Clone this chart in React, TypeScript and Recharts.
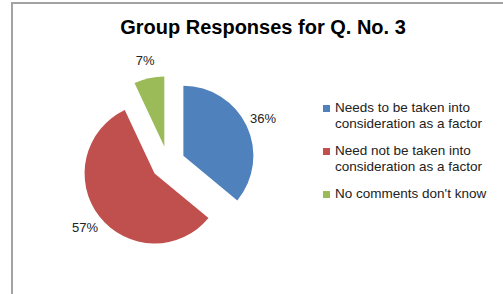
import { PieChart, Pie, Cell, Legend, Sector } from 'recharts'

const categories = [
  'Needs to be taken into consideration as a factor',
  'Need not be taken into consideration as a factor',
  "No comments don't know",
]
const shares = [36, 57, 7]
const colors = ['#4F81BD', '#C0504D', '#9BBB59']

const data = categories.map((name, i) => ({ name, value: shares[i] }))

const RAD = Math.PI / 180
const EXPLODE = 17
const FONT = 'Liberation Sans, Arial, sans-serif'

function ExplodedSlice(props: any) {
  const { cx, cy, midAngle, innerRadius, outerRadius, startAngle, endAngle, fill } = props
  const dx = EXPLODE * Math.cos(-midAngle * RAD)
  const dy = EXPLODE * Math.sin(-midAngle * RAD)
  return (
    <Sector
      cx={cx + dx}
      cy={cy + dy}
      innerRadius={innerRadius}
      outerRadius={outerRadius}
      startAngle={startAngle}
      endAngle={endAngle}
      fill={fill}
      stroke="none"
    />
  )
}

function SliceLabel(props: any) {
  const { cx, cy, midAngle, outerRadius, value } = props
  const r = EXPLODE + outerRadius + 18
  const x = cx + r * Math.cos(-midAngle * RAD)
  const y = cy + r * Math.sin(-midAngle * RAD)
  return (
    <text x={x} y={y} textAnchor="middle" dominantBaseline="central" fontSize={13} fontFamily={FONT} fill="#222">
      {`${value}%`}
    </text>
  )
}

function LegendBox() {
  return (
    <div style={{ fontFamily: FONT, fontSize: 13.5, lineHeight: '16px', color: '#222' }}>
      {data.map((d, i) => (
        <div key={d.name} style={{ display: 'flex', alignItems: 'flex-start', marginBottom: 11 }}>
          <div style={{ width: 7, height: 7, background: colors[i], marginTop: 5, marginRight: 5 }} />
          <div style={{ width: 160 }}>{d.name}</div>
        </div>
      ))}
    </div>
  )
}

export default function App() {
  return (
    <div style={{ position: 'absolute', left: 0, top: 0, width: 503, height: 294, background: '#fff', overflow: 'hidden' }}>
      <div
        style={{
          position: 'absolute',
          left: 11,
          top: 2,
          width: 520,
          height: 320,
          border: '2px solid #a3a3a3',
        }}
      />
      <div
        style={{
          position: 'absolute',
          left: 63,
          width: 400,
          top: 16,
          textAlign: 'center',
          fontFamily: FONT,
          fontWeight: 'bold',
          fontSize: 20,
          color: '#000',
        }}
      >
        Group Responses for Q. No. 3
      </div>
      <PieChart width={503} height={294} margin={{ top: 0, right: 0, bottom: 0, left: 0 }} style={{ position: 'absolute', left: 0, top: 0 }}>
        <Pie
          data={data}
          dataKey="value"
          nameKey="name"
          cx={168}
          cy={163}
          outerRadius={70}
          startAngle={90}
          endAngle={-270}
          stroke="none"
          labelLine={false}
          label={SliceLabel}
          shape={ExplodedSlice}
          activeShape={ExplodedSlice}
          inactiveShape={ExplodedSlice}
          isAnimationActive={false}
        >
          {data.map((d, i) => (
            <Cell key={d.name} fill={colors[i]} />
          ))}
        </Pie>
        <Legend
          content={LegendBox}
          wrapperStyle={{ position: 'absolute', left: 323, top: 100, width: 180 }}
        />
      </PieChart>
    </div>
  )
}
